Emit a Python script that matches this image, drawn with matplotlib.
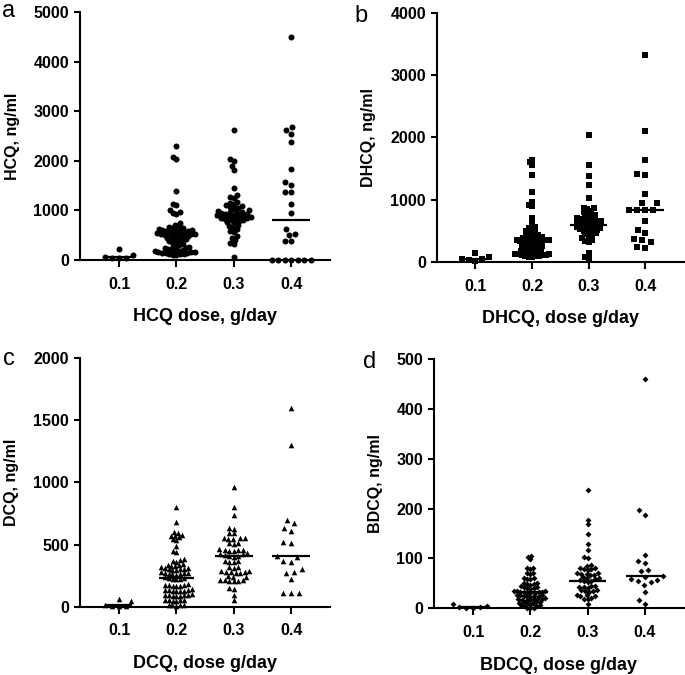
import numpy as np
import matplotlib
matplotlib.use("Agg")
import matplotlib.pyplot as plt

plt.rcParams["font.family"] = ["Liberation Sans", "DejaVu Sans"]

# =====================================================
# Data (ng/ml)
# =====================================================
doses = ["0.1", "0.2", "0.3", "0.4"]

hcq_01 = [220, 90, 60, 45, 35, 30]
hcq_02 = [2300, 2070, 2040, 1400, 1130, 1110, 1000, 970, 950, 930, 750, 700,
          680, 662, 648, 641, 628, 619, 607, 601, 596, 588, 579, 571, 563, 558,
          549, 541, 532, 526, 519, 514, 508, 501, 497, 489,
          472, 466, 451, 438, 431, 412, 403, 387, 378, 359, 341,
          322, 303, 281, 262, 251, 238, 231, 219, 208, 197, 188, 181, 172, 166,
          158, 151, 147, 139, 133, 128, 121, 117, 108, 101]
hcq_03 = [2620, 2040, 1990, 1900, 1820, 1460, 1300, 1260, 1240, 1170, 1150, 1120,
          1100, 1080, 1060, 1040, 1020, 1000, 990, 970, 962, 951, 940, 931, 922,
          910, 901, 892, 880, 871, 862, 850, 843, 832, 821, 810, 800, 782, 760,
          741, 702, 681, 652, 620, 581, 560, 480, 450, 400, 350, 320, 60]
hcq_04 = [4500, 2680, 2620, 2540, 2370, 1830, 1570, 1520, 1370, 1360, 1120, 940,
          620, 520, 500, 380, 380, 0, 0, 0, 0, 0, 0, 0]
hcq_med = [50, 520, 860, 810]

dhcq_01 = [140, 80, 50, 40, 30, 20]
dhcq_02 = [1640, 1600, 1560, 1390, 1120, 960, 920, 900, 700, 640,
           560, 541, 522, 498, 481, 462, 449, 438, 421, 409, 401,
           392, 383, 371, 366, 361, 354, 349, 344, 339, 333, 329, 324, 318, 312, 301,
           289, 278, 271, 259, 248, 241, 229, 221, 208, 199, 188, 179, 168, 161, 152,
           146, 139, 134, 131, 124, 119, 113, 109, 104, 97, 93, 88, 82, 78]
dhcq_03 = [2030, 1560, 1380, 1240, 1020, 870, 861, 849, 822, 801, 779, 761, 738,
           722, 701, 689, 681, 668, 659, 651, 642, 629, 621, 611, 600, 591, 582,
           571, 562, 551, 539, 531, 519, 511, 499, 481, 459, 441, 418, 401, 378,
           352, 331, 318, 150, 80, 50]
dhcq_04 = [3330, 2100, 1630, 1410, 1400, 1090, 950, 940, 830, 830, 830, 830,
           650, 510, 470, 360, 350, 320, 240, 230]
dhcq_med = [50, 340, 600, 830]

dcq_01 = [60, 50, 15, 10, 5, 3]
dcq_02 = [805, 685, 602, 591, 579, 571, 566, 559, 541, 536, 485, 446, 441,
          381, 376, 369, 363, 341, 337, 334, 331, 328, 316, 313, 309, 307, 304,
          301, 299, 297, 276, 273, 270, 268, 265, 263, 261, 259, 236, 233, 230,
          227, 225, 222, 181, 178, 176, 173, 171, 169, 166, 141, 138, 136, 133,
          131, 129, 127, 124, 101, 98, 96, 93, 91, 89, 87, 84, 58, 56, 53, 51,
          49, 46, 18, 16, 13, 11, 9]
dcq_03 = [966, 805, 739, 633, 627, 596, 589, 556, 553, 549, 547, 544, 516, 511,
          508, 461, 458, 455, 453, 451, 448, 429, 425, 421, 418, 409, 405, 401,
          367, 364, 361, 358, 321, 317, 314, 286, 284, 281, 278, 276, 274, 271,
          246, 242, 239, 219, 216, 213, 211, 209, 206, 152, 147, 96, 56]
dcq_04 = [1600, 1300, 700, 670, 630, 610, 520, 510, 410, 400, 370, 360, 300,
          280, 270, 220, 110, 110, 110]
dcq_med = [15, 230, 405, 405]

bdcq_01 = [8, 4, 3, 2, 1, 1]
bdcq_02 = [105, 102, 98, 81, 80, 78, 71, 70, 68, 61, 60, 59, 58, 51, 50, 49,
           48, 47, 44, 43, 42, 41, 40, 39, 35, 34, 34, 33, 33, 32, 32, 31, 31,
           30, 27, 26, 26, 25, 25, 24, 24, 23, 20, 19, 19, 18, 18, 17, 17, 16,
           13, 12, 12, 11, 11, 10, 7, 6, 6, 5, 5, 1, 1, 0]
bdcq_03 = [237, 177, 168, 148, 129, 116, 103, 101, 87, 85, 81, 80, 79, 78, 77,
           71, 70, 69, 68, 67, 66, 62, 61, 60, 59, 56, 55, 54, 53, 45, 44, 43,
           42, 41, 37, 36, 35, 34, 33, 27, 26, 25, 24, 20, 19, 18, 9]
bdcq_04 = [460, 197, 188, 107, 94, 91, 76, 74, 64, 62, 58, 56, 54, 52, 47, 33,
           17, 9]
bdcq_med = [2, 33, 55, 64]

# =====================================================
# Panel layout / style
# =====================================================
panels = [
    dict(letter="a", groups=[hcq_01, hcq_02, hcq_03, hcq_04], med=hcq_med,
         ymax=5000, step=1000, ylabel="HCQ, ng/ml", xlabel="HCQ dose, g/day",
         marker="o", ms=6.0, dist=[7.0, 3.7, 4.2, 6.5],
         rect=[0.117, 0.615, 0.365, 0.367], lpos=(0.012, 0.975)),
    dict(letter="b", groups=[dhcq_01, dhcq_02, dhcq_03, dhcq_04], med=dhcq_med,
         ymax=4000, step=1000, ylabel="DHCQ, ng/ml", xlabel="DHCQ, dose g/day",
         marker="s", ms=5.2, dist=[7.0, 3.5, 4.0, 8.0],
         rect=[0.638, 0.612, 0.360, 0.369], lpos=(0.527, 0.967)),
    dict(letter="c", groups=[dcq_01, dcq_02, dcq_03, dcq_04], med=dcq_med,
         ymax=2000, step=500, ylabel="DCQ, ng/ml", xlabel="DCQ, dose g/day",
         marker="^", ms=5.6, dist=[7.0, 4.0, 4.6, 8.0],
         rect=[0.117, 0.101, 0.365, 0.369], lpos=(0.013, 0.459)),
    dict(letter="d", groups=[bdcq_01, bdcq_02, bdcq_03, bdcq_04], med=bdcq_med,
         ymax=500, step=100, ylabel="BDCQ, ng/ml", xlabel="BDCQ, dose g/day",
         marker="D", ms=4.2, dist=[7.0, 3.4, 4.0, 7.0],
         rect=[0.634, 0.099, 0.364, 0.369], lpos=(0.540, 0.455)),
]
med_width = [0.45, 0.62, 0.66, 0.66]
XLIM = (0.32, 4.68)


def swarm(ypix, d):
    """Beeswarm offsets (pixels) for points at pixel heights ypix."""
    order = np.argsort(ypix)
    placed = []
    offs = np.zeros(len(ypix))
    for i in order:
        y = ypix[i]
        cands = [0.0]
        for px, py in placed:
            dy = abs(py - y)
            if dy < d:
                dx = np.sqrt(d * d - dy * dy)
                cands += [px - dx, px + dx]
        cands.sort(key=abs)
        for c in cands:
            if all((c - px) ** 2 + (y - py) ** 2 >= d * d - 1e-6 for px, py in placed):
                offs[i] = c
                placed.append((c, y))
                break
    return offs


fig = plt.figure(figsize=(6.85, 6.75), dpi=100)

for p in panels:
    ax = fig.add_axes(p["rect"])
    ax.set_xlim(*XLIM)
    ax.set_ylim(0, p["ymax"])
    w_px = p["rect"][2] * 685
    h_px = p["rect"][3] * 675
    px_per_x = w_px / (XLIM[1] - XLIM[0])
    px_per_y = h_px / p["ymax"]

    for k, vals in enumerate(p["groups"]):
        vals = np.asarray(vals, dtype=float)
        offs = swarm(vals * px_per_y, p["dist"][k]) / px_per_x
        ax.scatter(k + 1 + offs, vals, s=(p["ms"] * 0.72) ** 2, marker=p["marker"],
                   color="black", linewidths=0, clip_on=False, zorder=3)
        hw = med_width[k] / 2
        ax.plot([k + 1 - hw, k + 1 + hw], [p["med"][k]] * 2, color="black",
                lw=1.6, solid_capstyle="butt", zorder=4)

    ax.set_xticks(range(1, 5))
    ax.set_xticklabels(doses)
    ax.set_yticks(np.arange(0, p["ymax"] + 1, p["step"]))
    for s in ["top", "right"]:
        ax.spines[s].set_visible(False)
    for s in ["left", "bottom"]:
        ax.spines[s].set_linewidth(1.5)
    ax.tick_params(axis="y", length=4, width=1.5, pad=4, labelsize=11.5)
    ax.tick_params(axis="x", length=5, width=1.5, pad=7, labelsize=11.5)
    for t in ax.get_xticklabels() + ax.get_yticklabels():
        t.set_fontweight("bold")
    ax.set_ylabel(p["ylabel"], fontsize=11.5, fontweight="bold", labelpad=10)
    ax.set_xlabel(p["xlabel"], fontsize=13, fontweight="bold", labelpad=12)
    fig.text(p["lpos"][0], p["lpos"][1], p["letter"], fontsize=17,
             ha="center", va="baseline")

fig.savefig("out.png", dpi=100)
